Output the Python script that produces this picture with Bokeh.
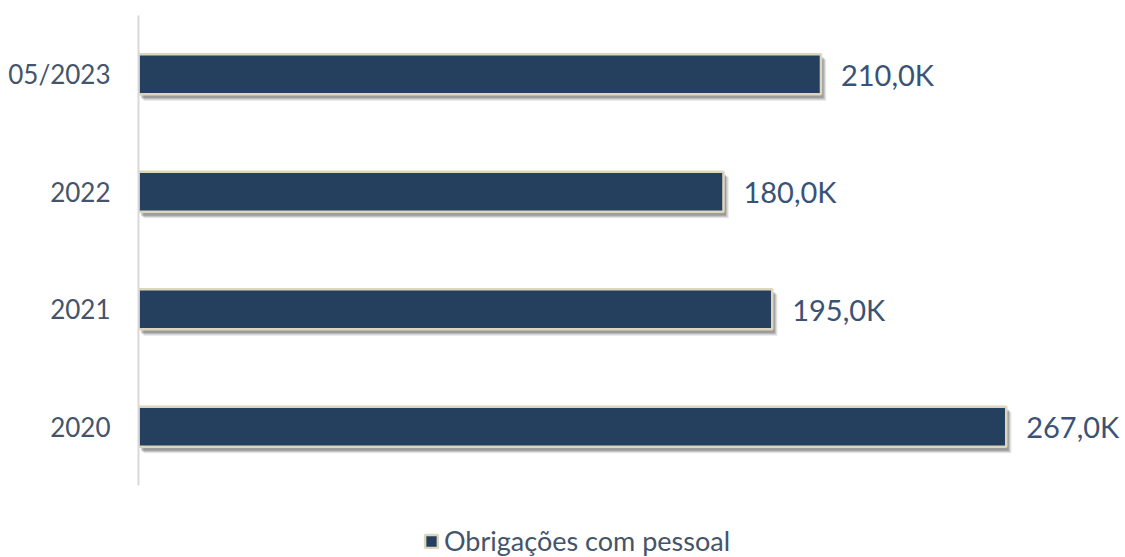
from bokeh.plotting import figure
from bokeh.models import Range1d, ColumnDataSource, Legend, LegendItem, FixedTicker
from bokeh.transform import dodge
from bokeh.core.properties import value
from bokeh.embed import file_html
from bokeh.resources import INLINE

categories = ["2020", "2021", "2022", "05/2023"]
values = [267.0, 195.0, 180.0, 210.0]
labels = [f"{v:.1f}K".replace(".", ",") for v in values]
series_name = "Obrigações com pessoal"

FONT = "Lato"
BAR = "#253F5F"
EDGE = "#DCD6BC"
TEXT = "#44546A"

pos = list(range(len(categories)))
src = ColumnDataSource(dict(pos=pos, val=values, lab=labels))

p = figure(width=1125, height=557, min_border_left=138, min_border_right=0,
           min_border_top=15, min_border_bottom=0,
           y_range=Range1d(-1.113, len(categories) - 0.5), x_range=Range1d(0, 303.7),
           output_backend="svg", toolbar_location=None)
p.outline_line_color = None
p.grid.visible = False
p.xaxis.visible = False
p.yaxis.ticker = FixedTicker(ticks=pos)
p.yaxis.major_label_overrides = {i: c for i, c in zip(pos, categories)}
p.yaxis.bounds = (-0.5, len(categories) - 0.5)
p.yaxis.axis_line_color = "#D9D9D9"
p.yaxis.axis_line_width = 2
p.yaxis.major_tick_line_color = None
p.yaxis.minor_tick_line_color = None
p.yaxis.major_label_text_font = FONT
p.yaxis.major_label_text_font_size = "26px"
p.yaxis.major_label_text_color = TEXT
p.yaxis.major_label_standoff = 22

# soft shadow
for dx, dy, a in [(1.6, -0.05, 0.10), (1.2, -0.04, 0.15), (0.8, -0.03, 0.2)]:
    p.hbar(y=dodge("pos", dy), right=dodge("val", dx), left=dx, height=0.35,
           source=src, fill_color="#000000", fill_alpha=a, line_color=None)

r = p.hbar(y="pos", right="val", left=0, height=0.34, source=src,
           fill_color=BAR, line_color=EDGE, line_width=2.5)

p.text(x="val", y="pos", text="lab", source=src, x_offset=20, text_baseline="middle",
       text_font=value(FONT), text_font_size="29px", text_color="#3A5275")

legend = Legend(items=[LegendItem(label=series_name, renderers=[r])],
                orientation="horizontal", location=(285, 0),
                label_text_font=FONT, label_text_font_size="27px", label_text_color=TEXT,
                glyph_width=16, glyph_height=16, label_standoff=5,
                border_line_color=None, background_fill_alpha=0, padding=0, margin=0)
p.add_layout(legend, "center")

open("out.html", "w").write(file_html(p, INLINE))
